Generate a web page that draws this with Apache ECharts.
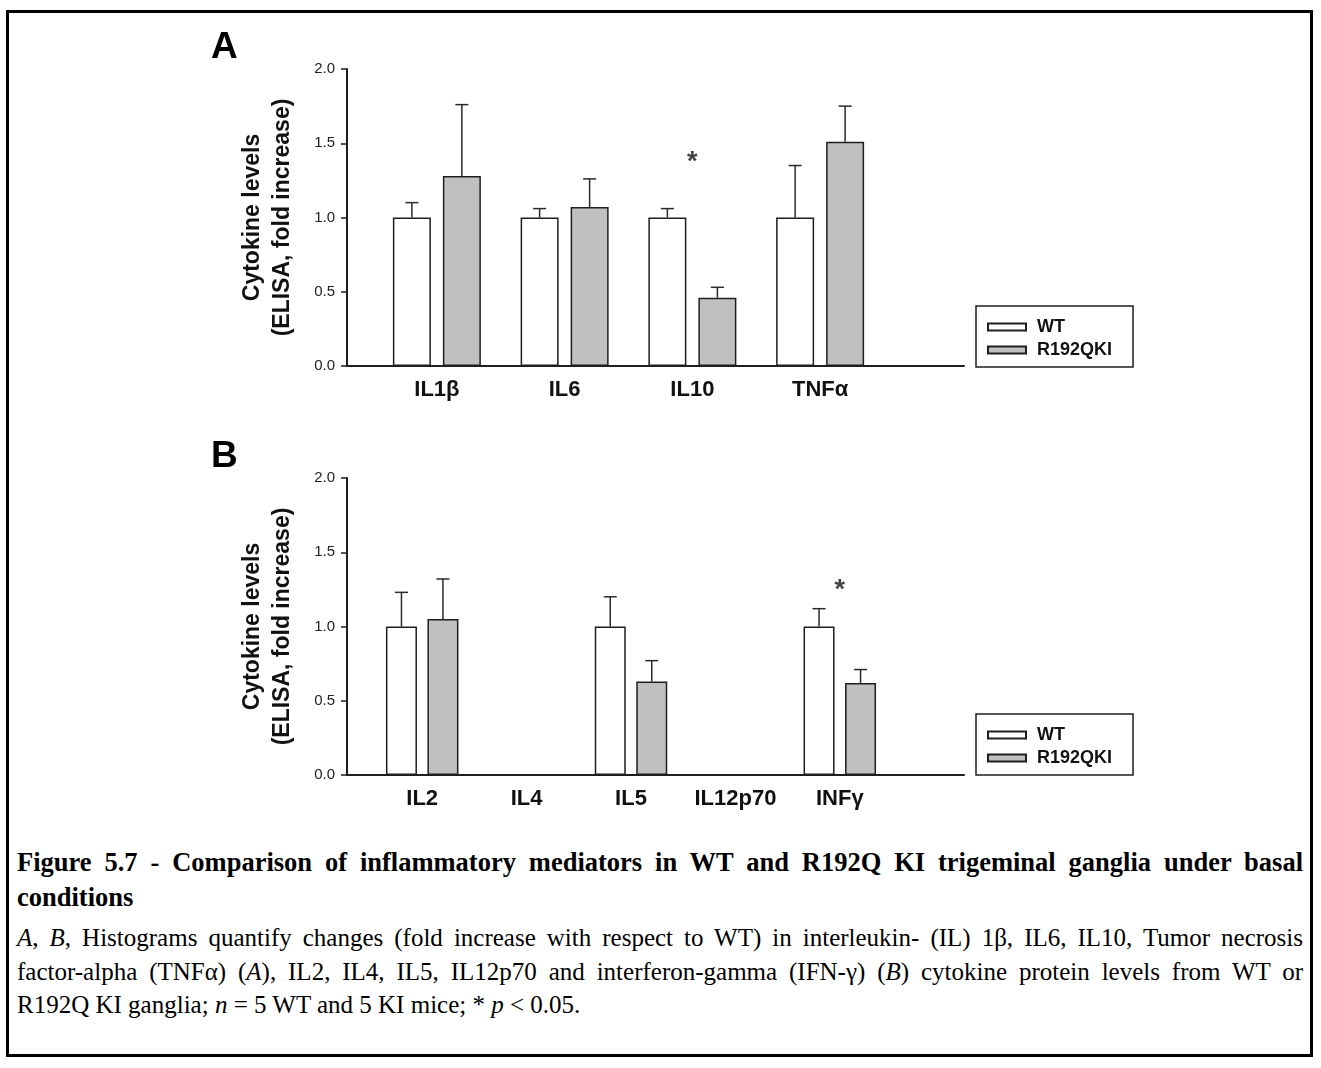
<!DOCTYPE html>
<html>
<head>
<meta charset="utf-8">
<script src="https://cdn.jsdelivr.net/npm/echarts@6/dist/echarts.min.js"></script>
<style>
  html, body { margin: 0; padding: 0; background: #fff; }
  #frame { position: absolute; left: 6px; top: 10px; width: 1307px; height: 1047px; border: 3px solid #000; box-sizing: border-box; }
  #chart { position: absolute; left: 0; top: 0; width: 1321px; height: 830px; }
  #caption { position: absolute; left: 17px; top: 844.5px; width: 1286px; font-family: "Liberation Serif", "Times New Roman", serif; color: #000; }
  #caption .ln { white-space: nowrap; text-align: justify; text-align-last: justify; }
  #caption .ln.last { text-align-last: left; }
  #caption .title { font-weight: bold; font-size: 26.5px; line-height: 35px; }
  #caption .body { font-size: 25px; line-height: 33.5px; margin-top: 6.75px; }
</style>
</head>
<body>
<div id="frame"></div>
<div id="chart"></div>
<div id="caption">
  <div class="title">
    <div class="ln">Figure 5.7 - Comparison of inflammatory mediators in WT and R192Q KI trigeminal ganglia under basal</div>
    <div class="ln last">conditions</div>
  </div>
  <div class="body">
    <div class="ln"><i>A</i>, <i>B</i>, Histograms quantify changes (fold increase with respect to WT) in interleukin- (IL) 1β, IL6, IL10, Tumor necrosis</div>
    <div class="ln">factor-alpha (TNFα) (<i>A</i>), IL2, IL4, IL5, IL12p70 and interferon-gamma (IFN-γ) (<i>B</i>) cytokine protein levels from WT or</div>
    <div class="ln last">R192Q KI ganglia; <i>n</i> = 5 WT and 5 KI mice; * <i>p</i> &lt; 0.05.</div>
  </div>
</div>
<script>
/* ---------------------------- data ---------------------------- */
const seriesNames = ['WT', 'R192QKI'];
const yTicks = [0, 0.5, 1.0, 1.5, 2.0];

// Panel A
const categoriesA = ['IL1β', 'IL6', 'IL10', 'TNFα'];
const wtA = [1.0, 1.0, 1.0, 1.0];
const wtSemA = [0.10, 0.06, 0.06, 0.35];
const kiA = [1.28, 1.07, 0.46, 1.51];
const kiSemA = [0.48, 0.19, 0.07, 0.24];
const starA = [null, null, 1.42, null];

// Panel B
const categoriesB = ['IL2', 'IL4', 'IL5', 'IL12p70', 'INFγ'];
const wtB = [1.0, null, 1.0, null, 1.0];
const wtSemB = [0.23, null, 0.20, null, 0.12];
const kiB = [1.05, null, 0.63, null, 0.62];
const kiSemB = [0.27, null, 0.14, null, 0.09];
const starB = [null, null, null, null, 1.29];

/* ---------------------------- chart ---------------------------- */
const chart = echarts.init(document.getElementById('chart'));
const FONT = '"Liberation Sans", Arial, sans-serif';
const AXIS_COLOR = '#1e1e1e';

const panels = [
  { letter: 'A', cats: categoriesA, wt: wtA, ki: kiA, wtSem: wtSemA, kiSem: kiSemA, stars: starA,
    top: 69, innerLeft: 373, innerRight: 884, barW: 38, gapPx: 12, legendTop: 306 },
  { letter: 'B', cats: categoriesB, wt: wtB, ki: kiB, wtSem: wtSemB, kiSem: kiSemB, stars: starB,
    top: 478, innerLeft: 370, innerRight: 892, barW: 31, gapPx: 10.5, legendTop: 714 }
];
const plotH = 297;
const axisLeft = 347;
const axisRight = 964;

const grid = [], xAxis = [], yAxis = [], series = [], legend = [], graphic = [];

panels.forEach((p, i) => {
  const outer = i * 2, inner = i * 2 + 1;
  grid.push({ left: axisLeft, width: axisRight - axisLeft, top: p.top, height: plotH });
  grid.push({ left: p.innerLeft, width: p.innerRight - p.innerLeft, top: p.top, height: plotH });

  // outer: visible axis frame
  xAxis.push({
    gridIndex: outer, type: 'value', min: 0, max: 1,
    axisLine: { show: true, onZero: false, lineStyle: { color: AXIS_COLOR, width: 2 } },
    axisTick: { show: false }, axisLabel: { show: false }, splitLine: { show: false }
  });
  yAxis.push({
    gridIndex: outer, type: 'value', min: 0, max: 2, interval: 0.5,
    name: 'Cytokine levels\n(ELISA, fold increase)',
    nameLocation: 'middle', nameGap: 49, nameRotate: 90,
    nameTextStyle: { fontFamily: FONT, fontSize: 23, fontWeight: 'bold', color: '#111', lineHeight: 30 },
    axisLine: { show: true, onZero: false, lineStyle: { color: AXIS_COLOR, width: 2 } },
    axisTick: { show: true, inside: false, length: 6, lineStyle: { color: AXIS_COLOR, width: 1.5 } },
    axisLabel: { margin: 12, fontFamily: FONT, fontSize: 15, color: '#222', formatter: v => v.toFixed(1) },
    splitLine: { show: false }
  });

  // inner: categories and bars
  xAxis.push({
    gridIndex: inner, type: 'category', data: p.cats,
    axisLine: { show: false }, axisTick: { show: false },
    axisLabel: { interval: 0, margin: 13, fontFamily: FONT, fontSize: 22, fontWeight: 'bold', color: '#111' }
  });
  yAxis.push({ gridIndex: inner, type: 'value', min: 0, max: 2, show: false });

  const barCommon = {
    type: 'bar', xAxisIndex: inner, yAxisIndex: inner,
    barWidth: p.barW, barGap: (p.gapPx / p.barW * 100) + '%'
  };
  series.push({ ...barCommon, name: seriesNames[0], data: p.wt,
    itemStyle: { color: '#ffffff', borderColor: AXIS_COLOR, borderWidth: 1.5 } });
  series.push({ ...barCommon, name: seriesNames[1], data: p.ki,
    itemStyle: { color: '#c0c0c0', borderColor: AXIS_COLOR, borderWidth: 1.5 } });

  // upper error bars
  const off = (p.barW + p.gapPx) / 2;
  const errData = [];
  p.cats.forEach((c, k) => {
    if (p.wt[k] != null) errData.push([k, p.wt[k], p.wt[k] + p.wtSem[k], -1]);
    if (p.ki[k] != null) errData.push([k, p.ki[k], p.ki[k] + p.kiSem[k], 1]);
  });
  series.push({
    type: 'custom', name: 'err' + p.letter, xAxisIndex: inner, yAxisIndex: inner,
    data: errData, z: 1,
    renderItem(params, api) {
      const base = api.coord([api.value(0), api.value(1)]);
      const top = api.coord([api.value(0), api.value(2)]);
      const x = base[0] + api.value(3) * off;
      const style = { stroke: '#2a2a2a', lineWidth: 1.5 };
      return {
        type: 'group',
        children: [
          { type: 'line', shape: { x1: x, y1: base[1], x2: x, y2: top[1] }, style },
          { type: 'line', shape: { x1: x - 6.5, y1: top[1], x2: x + 6.5, y2: top[1] }, style }
        ]
      };
    }
  });

  // significance stars
  series.push({
    type: 'scatter', name: 'sig' + p.letter, xAxisIndex: inner, yAxisIndex: inner,
    data: p.stars, symbolSize: 0, silent: true,
    label: { show: true, position: 'inside', formatter: '*', offset: [0, 7],
      fontFamily: FONT, fontSize: 27, fontWeight: 'bold', color: '#111' }
  });

  legend.push({
    orient: 'vertical', left: 976, top: p.legendTop,
    data: seriesNames.map(n => ({ name: n, icon: 'rect' })),
    itemWidth: 38, itemHeight: 7, itemGap: 5,
    padding: [12, 21, 8, 11],
    borderColor: AXIS_COLOR, borderWidth: 1.5, borderRadius: 0,
    selectedMode: false,
    textStyle: { fontFamily: FONT, fontSize: 18, fontWeight: 'bold', color: '#111', padding: [0, 0, 0, 6] }
  });

  graphic.push({
    type: 'text', left: 211, top: p.top - 40,
    style: { text: p.letter, font: 'bold 37px ' + FONT, fill: '#000' }
  });
});

chart.setOption({
  animation: false,
  grid, xAxis, yAxis, series, legend, graphic
});
</script>
</body>
</html>
